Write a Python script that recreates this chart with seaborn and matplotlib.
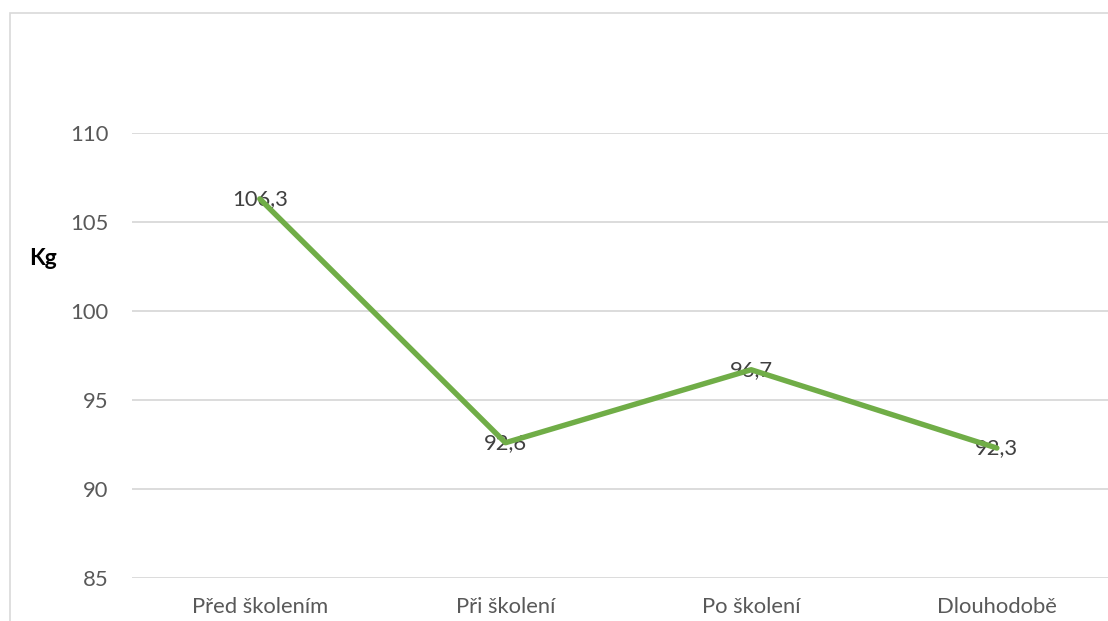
import matplotlib
matplotlib.use("Agg")
import matplotlib.pyplot as plt
from matplotlib.patches import Rectangle
import seaborn as sns
import pandas as pd

# Average weight at each stage of the training programme
stages = ["Před školením", "Při školení", "Po školení", "Dlouhodobě"]
weights = [106.3, 92.6, 96.7, 92.3]
y_ticks = [85, 90, 95, 100, 105, 110]
y_label = "Kg"

sns.set_theme(style="white")
plt.rcParams["font.family"] = ["Lato", "DejaVu Sans"]

W, H = 1108, 621
fig = plt.figure(figsize=(W / 100, H / 100), dpi=100)
fig.patch.set_facecolor("white")

# plot area in pixels: left edge 132, bottom grid line at y=578, top grid line at y=133
px_per_cat = 245.7
x_lo, x_hi = -0.52, 4.0
ax_left = 132
ax_w = (x_hi - x_lo) * px_per_cat
ax = fig.add_axes([ax_left / W, (H - 578) / H, ax_w / W, 445 / H])

df = pd.DataFrame({"stage": stages, "kg": weights})
sns.lineplot(data=df, x="stage", y="kg", sort=False, color="#70ad47",
             linewidth=3.9, solid_capstyle="round", solid_joinstyle="round",
             ax=ax, zorder=3)

fs = 15.8
for i, v in enumerate(weights):
    ax.text(i, v, f"{v:.1f}".replace(".", ","), ha="center", va="center",
            fontsize=fs, color="#404040", zorder=2)

ax.set_xlim(x_lo, x_hi)
ax.set_ylim(85, 110)
ax.set_yticks(y_ticks)
ax.set_yticklabels([str(t) for t in y_ticks])
ax.set_xticks(range(len(stages)))
ax.set_xticklabels(stages)
ax.tick_params(axis="y", length=0, pad=17, labelsize=fs, labelcolor="#595959")
ax.tick_params(axis="x", length=0, pad=14, labelsize=fs, labelcolor="#595959")
ax.set_xlabel("")
ax.set_ylabel("")
ax.yaxis.grid(True, color="#d9d9d9", linewidth=1.3)
ax.xaxis.grid(False)
for s in ax.spines.values():
    s.set_visible(False)
ax.set_facecolor("none")

fig.text(43 / W, 1 - 258 / H, y_label, ha="center", va="center",
         fontsize=16.5, fontweight="bold", color="black")

# chart frame
fig.patches.append(Rectangle((9.5 / W, -0.1), 1.2, (H - 13) / H + 0.1,
                             transform=fig.transFigure, fill=False,
                             edgecolor="#d9d9d9", linewidth=1.2, zorder=0))

fig.savefig("out.png", dpi=100, facecolor="white")
